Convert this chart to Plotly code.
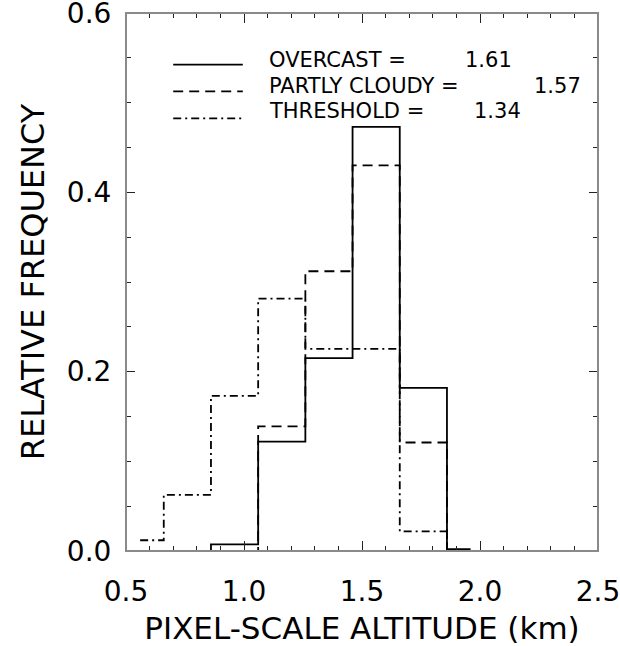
import plotly.graph_objects as go

# Histogram bin centres (km) and relative frequencies for each sky condition
altitude_km = [0.56, 0.76, 0.96, 1.16, 1.36, 1.56, 1.76, 1.96]
overcast = [0.0, 0.0, 0.0075, 0.122, 0.215, 0.473, 0.182, 0.002]
partly_cloudy = [0.0, 0.0, 0.0, 0.139, 0.312, 0.430, 0.121, 0.0]
threshold = [0.012, 0.0625, 0.173, 0.2815, 0.2255, 0.2255, 0.0218, 0.0]

# Key entries: label, mean altitude, dash style
legend_labels = ["OVERCAST =", "PARTLY CLOUDY =", "THRESHOLD ="]
legend_means = ["1.61", "1.57", "1.34"]
legend_dashes = ["solid", "10px,6px", "8px,4px,2px,4px"]

x_ticks = [0.5, 1.0, 1.5, 2.0, 2.5]
y_ticks = [0.0, 0.2, 0.4, 0.6]

FONT = "DejaVu Sans"
INK = "#000000"
FRAME = "#8a8a8a"

fig = go.Figure()
for vals, dash in zip([overcast, partly_cloudy, threshold], legend_dashes):
    fig.add_trace(go.Scatter(
        x=altitude_km, y=vals, mode="lines",
        line=dict(shape="hvh", color=INK, width=1.8, dash=dash),
        showlegend=False, hoverinfo="skip",
    ))

# Hand-drawn key in the upper part of the plot
line_y = [0.5425, 0.5125, 0.4825]
text_y = [0.5475, 0.519, 0.491]
mean_x = [1.928, 2.22, 1.966]
for lab, mean, dash, ly, ty, mx in zip(legend_labels, legend_means, legend_dashes,
                                       line_y, text_y, mean_x):
    fig.add_shape(type="line", xref="x", yref="y", x0=0.70, x1=0.995, y0=ly, y1=ly,
                  line=dict(color=INK, width=1.8, dash=dash))
    fig.add_annotation(x=1.096, y=ty, xref="x", yref="y", text=lab, showarrow=False,
                       xanchor="left", yanchor="middle",
                       font=dict(family=FONT, size=21, color=INK))
    fig.add_annotation(x=mx, y=ty, xref="x", yref="y", text=mean, showarrow=False,
                       xanchor="left", yanchor="middle",
                       font=dict(family=FONT, size=21, color=INK))

# Plot frame drawn over the traces so zero-level steps sit under the axis line
fig.add_shape(type="rect", xref="paper", yref="paper", x0=0, x1=1, y0=0, y1=1,
              layer="above", line=dict(color=FRAME, width=2), fillcolor="rgba(0,0,0,0)")

axis_common = dict(
    showgrid=False, zeroline=False, automargin=False,
    showline=True, linecolor=FRAME, linewidth=1, mirror="allticks",
    ticks="inside", tickcolor="#222222", tickwidth=1.3,
    tickfont=dict(family=FONT, size=28, color=INK),
    ticklabeloverflow="allow",
)

fig.update_xaxes(
    range=[0.5, 2.5], tickvals=x_ticks, ticktext=[f"{v:.1f}" for v in x_ticks],
    ticklen=10, ticklabelstandoff=15,
    minor=dict(dtick=0.1, tick0=0.5, ticks="inside", ticklen=5,
               tickcolor="#222222", tickwidth=1.3),
    title=dict(text="PIXEL-SCALE ALTITUDE (km)", standoff=16,
               font=dict(family=FONT, size=31, color=INK)),
    **axis_common,
)
fig.update_yaxes(
    range=[0, 0.6], tickvals=y_ticks, ticktext=[f"{v:.1f}" for v in y_ticks],
    ticklen=9, ticklabelstandoff=8,
    minor=dict(dtick=0.05, tick0=0, ticks="inside", ticklen=5,
               tickcolor="#222222", tickwidth=1.3),
    title=dict(text="RELATIVE FREQUENCY", standoff=12,
               font=dict(family=FONT, size=32, color=INK)),
    **axis_common,
)

fig.update_layout(
    width=620, height=646,
    margin=dict(l=126, r=22, t=13, b=95),
    paper_bgcolor="white", plot_bgcolor="white",
    showlegend=False,
)

fig.write_html("out.html")
